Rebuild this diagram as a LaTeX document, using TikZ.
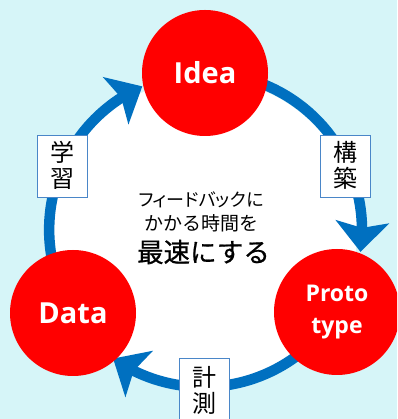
\documentclass[tikz,border=0pt]{standalone}
\usepackage{fontspec}
\setmainfont{Open Sans}
\newfontfamily\jp{Noto Sans CJK JP}
\newfontfamily\jpheavy[FakeBold=0.7]{Noto Sans CJK JP}
\usetikzlibrary{arrows.meta,bending}
\definecolor{bgcyan}{HTML}{D6F5F8}
\definecolor{ringblue}{HTML}{0070C0}
\definecolor{boxblue}{HTML}{4A86C8}
\definecolor{nodered}{HTML}{FF0000}
\begin{document}
\begin{tikzpicture}[x=1pt,y=1pt,
  ring/.style={draw=ringblue, line width=10.5pt, -{Stealth[length=30pt,width=53pt,inset=6pt]}},
  stage/.style={circle, fill=nodered, minimum size=126pt, inner sep=0pt, text=white},
  actbox/.style={draw=boxblue, line width=0.8pt, fill=white, minimum width=50pt, minimum height=62pt, inner sep=0pt},
  acttext/.style={font=\jp\fontsize{24}{26}\selectfont, align=center, inner sep=0pt},
  midtext/.style={inner sep=0pt}]
\clip (0,0) rectangle (397,419);
\fill[bgcyan] (0,0) rectangle (397,419);
\coordinate (C) at (205,188);
\coordinate (pI) at (205,346);
\coordinate (pD) at (73,106);
\coordinate (pP) at (337,107);
\fill[white] (C) circle[radius=152];
% cycle arcs
\draw[ring] (pD) arc[start angle=212, end angle=114, radius=157];
\draw[ring] (pI) arc[start angle=90, end angle=-8, radius=157];
\draw[ring] (pP) arc[start angle=-31.5, end angle=-125, radius=157];
% activity boxes
\node[actbox] (bL) at (62,253) {};
\node[acttext] (tL) at (62,254) {学\\習};
\node[actbox] (bR) at (345.5,253) {};
\node[acttext] (tR) at (345.5,254) {構\\築};
\node[actbox, minimum height=80pt, anchor=north] (bM) at (204,61) {};
\node[acttext] (tM) at (204,29) {計\\測};
% stages
\node[stage, font=\bfseries\fontsize{29}{30}\selectfont] (Idea) at (pI) {Idea};
\node[stage, font=\bfseries\fontsize{29}{30}\selectfont] (Data) at (pD) {Data};
\node[stage, font=\bfseries\fontsize{23}{32}\selectfont, align=center] (Proto) at (pP) {Proto\\type};
% centre text
\node[midtext, font=\jp\fontsize{18}{20}\selectfont\addfontfeatures{RawFeature=+palt}] (m1) at (201,219) {フィードバックに};
\node[midtext, font=\jp\fontsize{19}{20}\selectfont] (m2) at (201,196) {かかる時間を};
\node[midtext, font=\jpheavy\fontsize{26.5}{28}\selectfont] (m3) at (203.5,167) {最速にする};
\end{tikzpicture}
\end{document}
